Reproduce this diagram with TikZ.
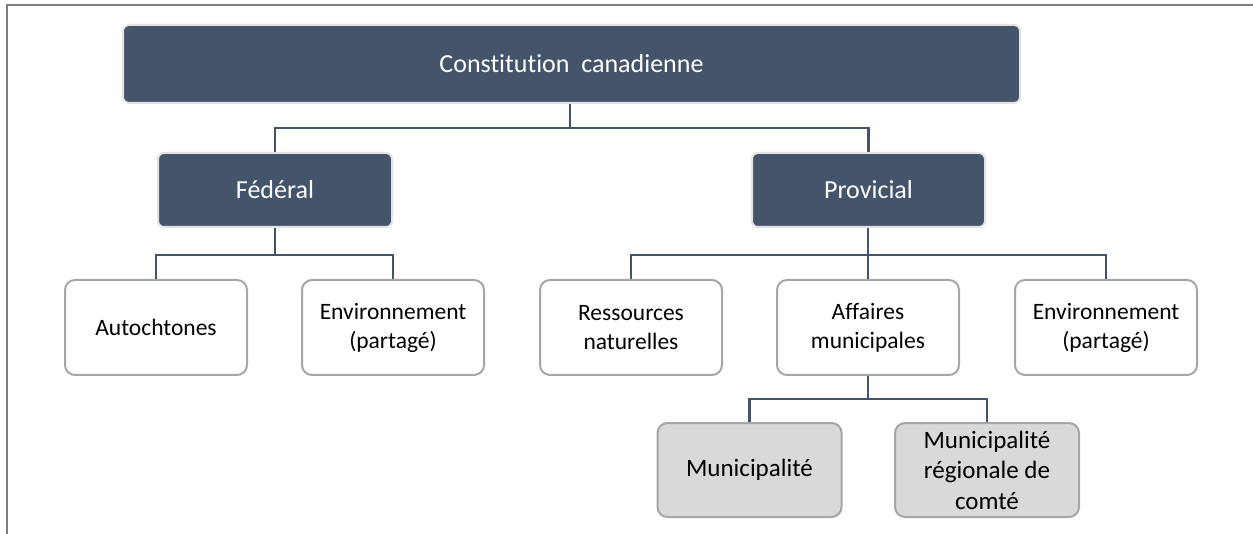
\documentclass[tikz,border=0pt]{standalone}
\usepackage{fontspec}
\setmainfont[Ligatures=NoCommon]{Carlito}
\definecolor{dark}{HTML}{44546A}
\definecolor{edgegray}{HTML}{A6A6A6}
\definecolor{lightedge}{HTML}{E3E3E3}
\definecolor{boxgray}{HTML}{D9D9D9}
\definecolor{framegray}{HTML}{7F7F7F}
\begin{document}
\begin{tikzpicture}[x=1pt,y=-1pt,
  darkbox/.style={draw=lightedge, line width=2pt, fill=dark, rounded corners=6pt, text=white,
    font=\fontsize{26}{31}\selectfont, align=center, inner sep=0pt},
  whitebox/.style={draw=edgegray, line width=2pt, fill=white, rounded corners=10pt, text=black,
    font=\fontsize{23.5}{29}\selectfont, align=center, inner sep=0pt,
    minimum width=182pt, minimum height=95pt},
  graybox/.style={whitebox, fill=boxgray, font=\fontsize{25}{30.5}\selectfont,
    minimum width=184pt, minimum height=94pt},
  conn/.style={draw=dark, line width=2.6pt}]
\useasboundingbox (0,0) rectangle (1253,534);
\draw[framegray, line width=2pt] (7,534) -- (7,5) -- (1253,5);

\node[darkbox, minimum width=897pt, minimum height=78pt] (top) at (571.5,64) {Constitution\ \ canadienne};
\node[darkbox, minimum width=234pt, minimum height=74pt] (fed) at (275,190) {Fédéral};
\node[darkbox, minimum width=233pt, minimum height=74pt] (prov) at (868.5,190) {Provicial};

\node[whitebox] (auto) at (156,327.5) {Autochtones};
\node[whitebox] (envf) at (393,327.5) {Environnement\\(partagé)};
\node[whitebox] (res) at (631,327.5) {Ressources\\naturelles};
\node[whitebox] (aff) at (868,327.5) {Affaires\\municipales};
\node[whitebox] (envp) at (1106,327.5) {Environnement\\(partagé)};

\node[graybox] (mun) at (749.5,470) {Municipalité};
\node[graybox] (mrc) at (987,470) {Municipalité\\régionale de\\comté};

\coordinate (j0) at (570,128);
\draw[conn] (j0 |- top.south) -- (j0);
\draw[conn] (j0) -| (fed.north);
\draw[conn] (j0) -| (prov.north);

\coordinate (j1) at (275,255);
\draw[conn] (fed.south) -- (j1);
\draw[conn] (j1) -| (auto.north);
\draw[conn] (j1) -| (envf.north);

\coordinate (j2) at (868,255);
\draw[conn] (j2 |- prov.south) -- (aff.north);
\draw[conn] (j2) -| (res.north);
\draw[conn] (j2) -| (envp.north);

\coordinate (j3) at (868,399);
\draw[conn] (aff.south) -- (j3);
\draw[conn] (j3) -| (mun.north);
\draw[conn] (j3) -| (mrc.north);
\end{tikzpicture}
\end{document}
